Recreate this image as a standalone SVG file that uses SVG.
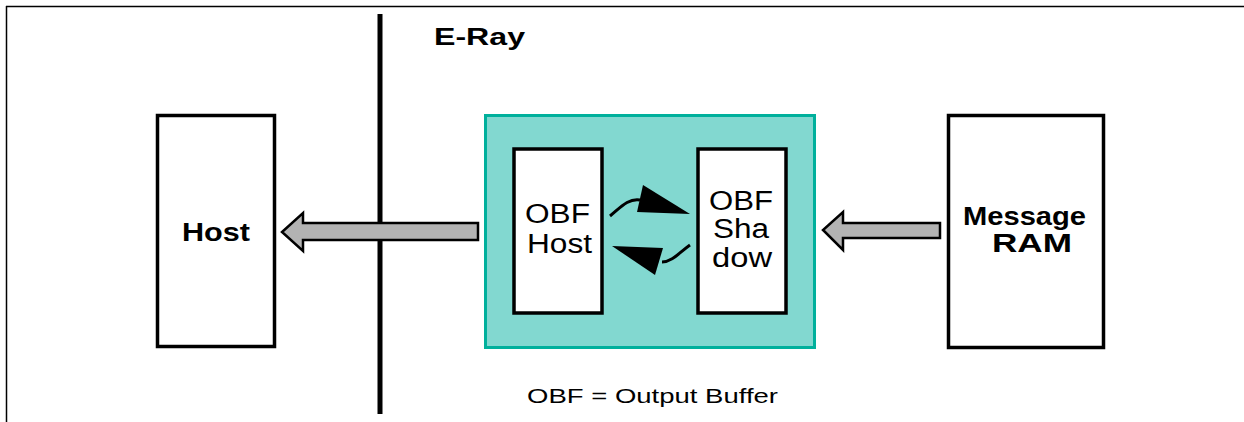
<svg xmlns="http://www.w3.org/2000/svg" width="1244" height="422" viewBox="0 0 1244 422">
<style>
.box{fill:#fff;stroke:#000;stroke-width:3.5}
.b{font-family:"Liberation Sans",Arial,sans-serif;font-weight:bold;fill:#000}
.r{font-family:"Liberation Sans",Arial,sans-serif;fill:#000}
.fat{fill:#b3b3b3;stroke:#000;stroke-width:2.5;stroke-linejoin:miter}
</style>
<rect width="1244" height="422" fill="#fff"/>
<g id="frame">
<line x1="6" y1="6.5" x2="1244" y2="6.5" stroke="#000" stroke-width="1.5"/>
<line x1="6.5" y1="6" x2="6.5" y2="422" stroke="#000" stroke-width="1.5"/>
<line x1="380" y1="14" x2="380" y2="414" stroke="#000" stroke-width="5"/>
<text class="b" x="434" y="45" font-size="24.5" textLength="91" lengthAdjust="spacingAndGlyphs">E-Ray</text>
</g>
<g id="host">
<rect class="box" x="157.5" y="115.5" width="117" height="231"/>
<text class="b" x="182" y="241" font-size="25" textLength="68" lengthAdjust="spacingAndGlyphs">Host</text>
</g>
<g id="eray">
<rect x="485.5" y="115.5" width="329" height="232" fill="#82d8d0" stroke="#00b09c" stroke-width="3"/>
</g>
<g id="obfhost">
<rect class="box" x="514" y="149" width="88" height="164"/>
<text class="r" x="525" y="223" font-size="27" textLength="65" lengthAdjust="spacingAndGlyphs">OBF</text>
<text class="r" x="527" y="253" font-size="27" textLength="65" lengthAdjust="spacingAndGlyphs">Host</text>
</g>
<g id="obfshadow">
<rect class="box" x="698" y="149" width="88" height="164"/>
<text class="r" x="709" y="210" font-size="27" textLength="64" lengthAdjust="spacingAndGlyphs">OBF</text>
<text class="r" x="713" y="238" font-size="27" textLength="56" lengthAdjust="spacingAndGlyphs">Sha</text>
<text class="r" x="712" y="267" font-size="27" textLength="60" lengthAdjust="spacingAndGlyphs">dow</text>
</g>
<g id="msgram">
<rect class="box" x="948.5" y="115.5" width="155" height="232"/>
<text class="b" x="963" y="225" font-size="25" textLength="123" lengthAdjust="spacingAndGlyphs">Message</text>
<text class="b" x="992" y="252" font-size="25" textLength="80" lengthAdjust="spacingAndGlyphs">RAM</text>
</g>
<g id="connectors">
<polygon class="fat" points="478,223 303,223 303,213 282,232 303,251 303,240 478,240"/>
<polygon class="fat" points="940,223 843,223 843,212 823,230 843,250 843,238 940,238"/>
<path d="M610,216 C620,208 628,198 640,200" fill="none" stroke="#000" stroke-width="3"/>
<polygon points="643,185 690,214 637,212" fill="#000"/>
<path d="M690,245 C680,252 672,262 662,262" fill="none" stroke="#000" stroke-width="3"/>
<polygon points="612,246 663,248 655,275" fill="#000"/>
</g>
<g id="note">
<text class="r" x="527" y="403" font-size="21" textLength="251" lengthAdjust="spacingAndGlyphs">OBF = Output Buffer</text>
</g>
</svg>
